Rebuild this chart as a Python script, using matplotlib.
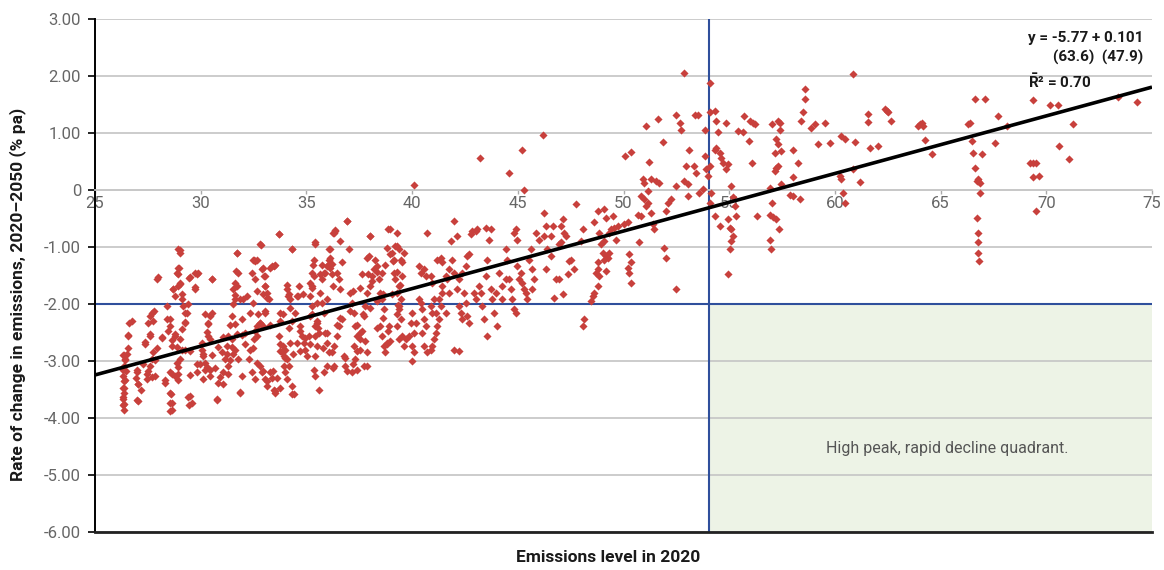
import matplotlib
matplotlib.use("Agg")
import matplotlib.pyplot as plt
import numpy as np
from matplotlib.patches import Rectangle

plt.rcParams['font.family'] = ['Roboto', 'DejaVu Sans']
plt.rcParams['mathtext.fontset'] = 'custom'
plt.rcParams['mathtext.rm'] = 'Roboto'
plt.rcParams['mathtext.bf'] = 'Roboto:bold'

# ---- data: emissions level in 2020 vs. rate of change 2020-2050 (% pa) ----
x_group_a = [
    26.39, 26.42, 26.36, 26.45, 26.34, 26.39, 26.36, 26.39, 26.34, 26.39,
    26.37, 26.50, 26.55, 26.55, 26.62, 26.97, 27.05, 26.92, 27.18, 27.02,
    27.52, 27.60, 27.81, 27.60, 27.37, 27.76, 27.68, 27.60, 27.52, 27.44,
    27.84, 27.92, 28.15, 28.31, 28.39, 28.55, 28.68, 28.79, 28.86, 28.94,
    29.02, 28.94, 28.91, 29.02, 29.13, 29.18, 29.26, 29.26, 29.10, 28.79,
    28.63, 28.55, 28.79, 28.94, 28.60, 28.63, 28.55, 28.86, 29.02, 29.26,
    29.50, 29.50, 29.57, 29.46, 29.73, 29.89, 29.73, 29.81, 30.05, 30.05,
    30.13, 30.21, 30.36, 30.44, 30.52, 30.52, 30.36, 30.21, 30.44, 30.68,
    30.76, 30.84, 30.99, 31.07, 31.15, 31.23, 31.31, 31.39, 31.47, 31.55,
    31.62, 31.70, 31.75, 31.62, 31.47, 31.31, 31.62, 31.78, 31.86, 31.94,
    32.02, 32.10, 31.94, 31.55]
y_group_a = [
    -2.90, -2.97, -3.09, -3.18, -3.26, -3.35, -3.47, -3.56, -3.67, -3.76,
    -3.86, -2.88, -2.78, -2.56, -2.33, -3.20, -3.41, -3.29, -3.50, -3.70,
    -2.33, -2.21, -2.12, -2.56, -2.71, -2.85, -2.97, -3.09, -3.18, -3.32,
    -3.26, -1.57, -2.59, -3.38, -2.04, -2.27, -1.74, -1.86, -1.45, -1.04,
    -1.10, -1.36, -1.68, -1.63, -1.92, -2.04, -2.15, -2.33, -2.44, -2.56,
    -2.74, -3.20, -3.26, -3.23, -3.58, -3.73, -3.88, -3.03, -2.97, -2.80,
    -2.82, -3.61, -3.73, -1.54, -1.45, -1.45, -1.74, -3.20, -2.68, -2.80,
    -2.91, -3.03, -2.33, -2.21, -1.57, -2.15, -2.56, -3.15, -3.26, -3.12,
    -3.68, -3.38, -2.85, -3.20, -2.97, -2.74, -2.56, -2.36, -2.21, -1.74,
    -1.63, -1.10, -1.45, -1.92, -2.62, -3.09, -2.80, -2.97, -3.56, -3.26,
    -1.92, -2.50, -2.27, -2.88]

x_group_b = [
    32.19, 32.35, 32.43, 32.51, 32.66, 32.82, 32.90, 32.98, 33.06, 33.14,
    33.22, 33.29, 33.45, 33.06, 32.82, 32.66, 32.51, 32.35, 32.27, 32.43,
    32.58, 32.82, 32.90, 33.06, 33.14, 33.29, 33.37, 33.45, 33.53, 33.69,
    33.77, 33.69, 33.77, 33.85, 33.93, 34.00, 34.08, 34.16, 33.93, 34.00,
    34.08, 34.24, 34.32, 34.32, 34.40, 34.48, 34.56, 34.63, 34.08, 34.16,
    34.24, 34.71, 34.79, 34.87, 34.95, 35.03, 35.11, 35.19, 35.27, 35.34,
    35.42, 35.34, 35.27, 35.19, 35.42, 35.50, 35.58, 35.50, 35.42, 35.34,
    35.42, 35.58, 35.82, 35.98, 36.05, 35.98, 35.90, 35.82, 35.74, 35.66,
    35.74, 35.82, 35.98, 36.05, 36.13, 36.21, 36.29, 36.37, 36.45, 36.53,
    36.61, 36.69, 36.69, 36.53, 36.45, 36.29, 36.29, 36.76, 36.84, 36.92,
    37.00, 37.08, 37.16, 37.24, 37.32, 37.40, 37.24, 37.32, 37.40, 37.16,
    37.55, 37.63, 37.71, 37.79, 37.87, 37.95, 38.03, 38.03, 38.10, 38.18,
    38.26, 38.34, 38.42, 38.50, 38.58, 38.66, 38.50, 38.58, 38.66, 38.74,
    38.81, 38.89, 38.97, 39.05, 39.13, 39.21, 39.29, 39.13, 39.21, 39.29,
    39.37, 39.29, 39.37, 37.71, 37.87, 37.55]
y_group_b = [
    -1.86, -2.15, -1.45, -1.22, -1.22, -0.95, -1.39, -1.51, -1.68, -1.80,
    -1.92, -1.36, -1.33, -2.15, -2.33, -2.39, -2.62, -2.80, -2.97, -3.20,
    -3.32, -3.09, -3.20, -3.32, -3.44, -3.20, -3.29, -3.50, -3.56, -0.78,
    -2.15, -2.56, -2.71, -2.85, -2.91, -2.80, -2.97, -3.09, -3.09, -3.20,
    -3.32, -2.68, -1.04, -3.44, -3.58, -2.15, -1.86, -1.68, -1.74, -1.83,
    -1.92, -2.39, -2.56, -2.68, -2.80, -2.91, -2.56, -2.21, -2.04, -1.22,
    -0.92, -1.51, -1.68, -1.86, -2.39, -2.33, -2.50, -2.74, -2.91, -3.15,
    -3.26, -3.50, -3.20, -3.09, -2.85, -2.68, -2.50, -2.15, -1.98, -1.80,
    -1.57, -1.45, -1.33, -1.22, -1.04, -1.30, -0.75, -0.72, -1.45, -1.57,
    -1.74, -1.27, -2.27, -2.39, -2.56, -2.74, -3.09, -2.91, -3.09, -0.54,
    -1.04, -1.80, -1.98, -2.15, -2.39, -2.56, -2.74, -2.97, -3.15, -3.20,
    -2.62, -2.47, -2.21, -2.04, -1.80, -1.16, -0.81, -1.68, -1.51, -1.39,
    -1.22, -1.33, -1.57, -1.80, -1.92, -2.09, -2.39, -2.56, -2.74, -2.85,
    -2.68, -2.39, -0.69, -1.10, -1.22, -0.98, -0.75, -1.45, -1.57, -1.80,
    -2.04, -2.39, -2.62, -3.09, -2.85, -2.80]

x_group_c = [
    40.09, 43.20, 44.59, 45.18, 45.29, 46.19, 39.38, 39.46, 39.54, 39.62,
    39.54, 39.38, 39.46, 39.38, 39.46, 39.54, 39.62, 39.70, 40.01, 40.09,
    40.01, 39.85, 39.93, 40.01, 40.09, 40.17, 40.33, 40.41, 40.48, 40.56,
    40.64, 40.48, 40.56, 40.72, 40.88, 40.96, 41.04, 41.12, 41.19, 41.27,
    40.96, 40.88, 41.04, 41.12, 41.27, 41.35, 41.43, 40.33, 40.41, 40.56,
    40.64, 40.72, 40.88, 40.96, 41.19, 41.35, 41.43, 41.59, 41.67, 41.75,
    41.82, 41.90, 41.98, 41.98, 42.14, 42.14, 41.98, 42.22, 42.22, 42.30,
    42.38, 42.46, 42.53, 42.61, 42.69, 42.61, 42.69, 42.77, 42.85, 43.01,
    43.09, 42.93, 43.01, 43.17, 43.24, 43.32, 43.40, 43.56, 43.48, 43.56,
    43.64, 43.72, 43.48, 43.72, 43.80, 43.88, 43.95, 44.03, 44.11, 44.27,
    44.43, 44.51, 44.59, 44.66, 44.74, 44.82, 44.90, 44.82, 44.90, 44.98,
    44.98, 45.06, 45.22, 45.29, 45.37, 45.45, 45.53, 45.61, 45.69, 45.77,
    45.69, 45.85, 46.00, 46.24, 46.32, 46.40, 46.32, 46.24, 45.14, 44.43,
    44.27, 42.53, 42.38, 42.22, 41.75, 41.43, 41.59]
y_group_c = [
    0.08, 0.56, 0.30, 0.71, 0.00, 0.96, -1.04, -1.22, -1.27, -1.10,
    -1.51, -1.68, -1.92, -2.09, -2.27, -2.56, -2.74, -2.62, -2.74, -2.85,
    -3.00, -2.56, -2.33, -2.15, -2.50, -2.33, -1.92, -1.98, -2.09, -2.27,
    -2.39, -2.50, -2.74, -2.85, -2.80, -2.74, -2.62, -2.50, -2.39, -2.27,
    -2.15, -2.04, -1.92, -2.15, -1.92, -2.04, -1.80, -1.33, -1.45, -1.39,
    -1.51, -0.75, -1.51, -1.63, -1.22, -1.19, -1.27, -1.51, -1.57, -1.39,
    -0.89, -1.22, -0.54, -1.45, -0.81, -1.74, -2.80, -2.82, -2.04, -2.15,
    -2.27, -1.80, -1.98, -2.21, -2.33, -1.16, -1.13, -0.78, -0.72, -0.72,
    -0.69, -1.80, -1.92, -1.68, -1.80, -2.04, -2.27, -2.56, -1.51, -1.22,
    -0.87, -0.69, -0.66, -1.74, -1.92, -2.15, -1.80, -2.39, -1.45, -1.92,
    -1.04, -1.22, -1.57, -1.74, -1.92, -2.09, -2.15, -0.75, -0.69, -0.87,
    -1.33, -1.57, -1.63, -1.74, -1.80, -1.92, -1.22, -1.04, -1.39, -1.57,
    -1.74, -0.75, -0.87, -0.40, -0.63, -1.04, -1.39, -0.81, -1.45, -1.57,
    -1.68, -1.33, -1.45, -1.57, -1.80, -1.68, -2.15]

x_group_d = [
    52.85, 51.07, 51.65, 52.48, 52.69, 53.38, 53.51, 52.72, 51.85, 50.07,
    50.36, 51.22, 53.12, 52.96, 53.35, 53.43, 50.91, 50.99, 51.30, 51.54,
    51.70, 51.14, 50.83, 50.99, 51.14, 51.07, 52.48, 52.85, 53.04, 53.07,
    53.59, 52.25, 52.09, 52.01, 51.30, 50.83, 50.67, 50.20, 50.04, 49.72,
    49.57, 49.41, 49.33, 49.49, 49.17, 49.09, 48.78, 48.62, 48.86, 49.65,
    49.09, 48.94, 49.01, 49.09, 49.17, 49.25, 49.33, 48.78, 48.70, 48.78,
    48.86, 48.78, 48.62, 48.54, 48.46, 49.17, 50.28, 50.36, 50.23, 50.28,
    50.36, 50.75, 51.38, 51.46, 51.93, 52.01, 52.48, 48.15, 48.10, 48.07,
    47.99, 47.75, 47.67, 47.52, 47.44, 47.36, 47.28, 47.20, 47.12, 47.04,
    47.04, 46.96, 46.96, 47.12, 46.73, 46.65, 46.57, 46.57, 46.81]
y_group_d = [
    2.05, 1.13, 1.25, 1.31, 1.18, 1.31, 1.31, 1.05, 0.84, 0.60,
    0.67, 0.49, 0.70, 0.42, 0.42, 0.30, 0.19, 0.12, 0.19, 0.16,
    0.13, -0.02, -0.11, -0.16, -0.22, -0.28, 0.07, 0.16, 0.10, -0.11,
    -0.05, -0.16, -0.23, -0.37, -0.40, -0.46, -0.43, -0.57, -0.60, -0.63,
    -0.66, -0.69, -0.75, -0.46, -0.49, -0.34, -0.37, -0.57, -0.75, -0.87,
    -0.89, -0.95, -1.10, -1.22, -1.16, -1.19, -1.10, -1.27, -1.45, -1.39,
    -1.51, -1.68, -1.80, -1.86, -1.95, -1.42, -1.13, -1.27, -1.36, -1.45,
    -1.63, -0.91, -0.60, -0.69, -1.01, -1.19, -1.73, -2.27, -2.39, -0.69,
    -0.89, -0.25, -1.39, -1.22, -1.25, -1.48, -0.81, -0.75, -0.51, -0.63,
    -0.92, -0.95, -1.57, -1.83, -1.89, -0.63, -0.81, -1.16, -1.57]

x_group_e = [
    54.11, 54.08, 54.31, 54.39, 53.84, 54.47, 54.83, 54.39, 54.31, 54.55,
    54.63, 54.71, 54.94, 54.86, 54.08, 53.84, 53.92, 54.00, 53.76, 54.15,
    54.08, 55.10, 55.18, 55.26, 55.34, 54.31, 54.55, 54.94, 55.02, 55.10,
    55.18, 55.10, 55.02, 54.94, 55.42, 55.65, 55.68, 55.97, 56.13, 56.20,
    55.94, 56.09, 56.33, 56.91, 57.04, 56.91, 57.07, 57.20, 57.36, 56.91,
    56.99, 57.04, 57.31, 57.39, 57.39, 57.23, 57.31, 57.15, 57.47, 57.20,
    57.31, 57.15, 57.47, 57.86, 58.02, 58.33, 58.02, 58.26, 58.02, 58.57,
    58.57, 58.49, 58.41, 58.89, 59.04, 59.52, 59.20, 59.75, 60.31, 60.46,
    60.86, 60.23, 60.31, 60.38, 60.46, 60.94, 60.86]
y_group_e = [
    1.87, 1.36, 1.39, 1.21, 1.06, 1.01, 1.17, 0.74, 0.71, 0.65,
    0.57, 0.48, 0.45, 0.36, 0.42, 0.60, 0.36, 0.25, 0.01, -0.05,
    -0.22, 0.07, -0.13, -0.28, -0.46, -0.46, -0.63, -0.51, -0.66, -0.69,
    -0.81, -0.89, -1.04, -1.47, 1.04, 1.01, 1.29, 1.21, 1.18, 1.15,
    0.86, 0.47, -0.46, 0.04, -0.22, -0.43, -0.47, -0.50, -0.68, -0.87,
    -1.04, 1.15, 1.21, 1.17, 1.05, 0.89, 0.80, 0.65, 0.68, 0.39,
    0.42, 0.33, 0.10, -0.09, -0.11, -0.16, 0.22, 0.48, 0.70, 1.78,
    1.59, 1.36, 1.21, 1.09, 1.15, 1.18, 0.80, 0.82, 0.94, 0.90,
    2.03, 0.25, 0.19, -0.05, -0.22, 0.84, 0.36]

x_group_f = [
    61.58, 61.58, 61.66, 62.05, 62.37, 62.45, 62.53, 62.65, 61.19, 63.95,
    64.03, 64.10, 64.18, 64.26, 64.58, 66.31, 66.39, 66.47, 66.55, 66.63,
    67.10, 66.94, 66.63, 66.71, 66.79, 66.87, 66.79, 66.87, 66.71, 66.79,
    66.75, 66.79, 66.82, 67.57, 67.73, 68.13, 69.36, 70.18, 70.57, 71.28,
    70.62, 71.09, 69.23, 69.39, 69.51, 69.36, 69.67, 69.51, 74.28, 73.41]
y_group_f = [
    1.34, 1.19, 0.74, 0.78, 1.42, 1.39, 1.36, 1.21, 0.14, 1.12,
    1.15, 1.18, 1.12, 0.88, 0.63, 1.15, 1.18, 0.86, 0.65, 1.59,
    1.60, 0.63, 0.39, 0.16, 0.16, 0.13, 0.19, -0.05, -0.49, -0.75,
    -0.92, -1.10, -1.25, 0.83, 1.30, 1.13, 1.58, 1.49, 1.49, 1.16,
    0.78, 0.54, 0.47, 0.47, 0.47, 0.23, 0.25, -0.37, 1.55, 1.63]

x_group_g = [
    36.94, 33.72, 32.85, 34.30, 35.41, 36.08, 36.59, 36.27, 36.35, 38.01,
    38.88, 38.80, 39.27, 32.57, 32.46, 32.96, 33.36, 33.51, 33.04, 32.57,
    33.04, 32.96, 32.65, 33.12, 32.49, 32.72, 33.04, 32.80, 32.96, 32.57,
    32.65, 32.49, 33.28, 33.75, 34.07, 34.14, 34.22, 33.91, 34.19, 34.30,
    34.62, 34.85, 35.25, 35.25, 35.33, 35.17, 35.64, 35.72, 35.88, 36.04,
    36.12, 36.12, 36.19, 36.27, 35.96, 35.48, 35.25, 35.48, 35.56, 35.41,
    35.17, 34.93, 34.70, 34.54, 34.38, 34.70, 33.91, 33.75, 33.99, 33.43,
    33.12, 33.59, 33.75, 33.51, 34.30, 32.96, 32.65, 35.80, 36.19, 36.83,
    36.90, 36.27, 35.96, 36.46, 36.59, 37.06, 37.22, 37.53, 37.61, 37.85,
    37.93, 38.09, 38.32, 38.56, 38.72, 38.95, 39.11, 39.27, 39.43, 39.03,
    38.64, 38.32, 38.01, 37.69, 37.38, 37.53, 37.77, 37.38, 37.22, 37.85,
    38.32, 38.64, 38.88, 38.80, 38.95, 39.27, 39.35]
y_group_g = [
    -0.54, -0.77, -0.96, -1.03, -0.95, -1.04, -0.89, -0.76, -0.71, -0.81,
    -0.68, -1.01, -0.99, -1.25, -1.22, -1.37, -1.34, -1.31, -1.51, -1.57,
    -1.69, -1.83, -1.78, -1.89, -1.98, -2.18, -2.13, -2.33, -2.39, -2.48,
    -2.56, -2.77, -2.36, -2.30, -1.66, -1.86, -2.07, -2.18, -2.42, -2.30,
    -1.86, -1.83, -1.72, -1.45, -1.31, -1.63, -1.48, -1.31, -1.45, -1.31,
    -1.19, -1.37, -1.48, -1.69, -1.92, -1.98, -2.18, -2.30, -2.42, -2.56,
    -2.71, -2.59, -2.48, -2.68, -2.88, -2.83, -2.74, -2.83, -2.94, -3.17,
    -3.35, -3.29, -3.47, -3.52, -3.58, -3.17, -3.03, -2.77, -2.85, -2.94,
    -3.17, -3.12, -2.50, -2.36, -2.24, -2.13, -1.78, -1.72, -1.48, -1.19,
    -1.48, -1.60, -1.43, -1.45, -1.31, -1.13, -1.25, -1.43, -1.66, -1.83,
    -1.83, -1.95, -2.07, -2.18, -2.36, -2.50, -2.65, -2.83, -3.06, -3.09,
    -2.42, -2.24, -2.48, -2.71, -2.65, -2.18, -2.01]

x_group_h = [
    29.02, 28.99, 28.94, 29.02, 29.10, 28.71, 29.84, 29.73, 29.50, 27.99,
    30.52, 31.70, 31.67, 31.70, 31.62, 31.55, 31.86, 26.74, 26.58, 27.68,
    27.76, 27.60, 27.37, 27.92, 28.15, 28.39, 28.55, 28.47, 28.63, 28.79,
    29.02, 28.86, 29.10, 29.26, 29.34, 29.42, 30.21, 30.36, 30.28, 30.44,
    30.13, 29.97, 30.28, 30.52, 30.84, 31.07, 31.23, 31.39, 31.47, 31.62,
    31.70, 31.94, 32.10, 26.34, 26.42, 26.34, 26.42, 26.34, 26.34, 26.34,
    26.97, 27.05, 26.97, 27.29, 27.44, 27.68, 27.84, 28.31, 28.63, 28.55,
    28.55, 28.63, 28.94, 28.94, 29.42, 29.46, 29.50, 29.81, 30.13, 30.44,
    30.76, 30.91, 31.07, 31.31, 31.86]
y_group_h = [
    -1.06, -1.36, -1.48, -1.65, -1.83, -1.74, -1.48, -1.71, -1.53, -1.53,
    -1.56, -1.10, -1.42, -1.68, -1.85, -2.00, -1.91, -2.29, -2.55, -2.15,
    -2.29, -2.52, -2.67, -2.78, -2.58, -2.26, -2.38, -2.47, -2.64, -2.52,
    -2.61, -2.76, -2.81, -2.32, -2.15, -2.00, -2.17, -2.35, -2.49, -2.61,
    -2.87, -3.05, -3.10, -2.90, -2.76, -2.58, -2.87, -2.99, -2.76, -2.35,
    -2.52, -2.55, -2.70, -2.90, -2.99, -3.16, -3.34, -3.48, -3.63, -3.77,
    -3.16, -3.40, -3.69, -3.05, -3.22, -3.28, -2.99, -3.34, -3.22, -3.57,
    -3.74, -3.86, -3.34, -3.10, -3.63, -3.77, -3.25, -3.05, -3.31, -3.16,
    -3.66, -3.28, -3.40, -3.22, -3.54]

x_groups = [x_group_a, x_group_b, x_group_c, x_group_d,
            x_group_e, x_group_f, x_group_g, x_group_h]
y_groups = [y_group_a, y_group_b, y_group_c, y_group_d,
            y_group_e, y_group_f, y_group_g, y_group_h]
for gx, gy in zip(x_groups, y_groups):
    assert len(gx) == len(gy), (len(gx), len(gy))
emissions_2020 = np.concatenate([np.asarray(g, float) for g in x_groups])
rate_of_change = np.concatenate([np.asarray(g, float) for g in y_groups])

# fitted regression: y = a + b x, t-statistics in brackets
intercept, slope = -5.77, 0.101
t_stats = (63.6, 47.9)
r2_adj = 0.70
threshold_level = 54.05      # vertical divider
threshold_rate = -2.00       # horizontal divider

x_ticks = [25, 30, 35, 40, 45, 50, 55, 60, 65, 70, 75]
y_ticks = [3, 2, 1, 0, -1, -2, -3, -4, -5, -6]

# ---- figure ----
W, H = 1164, 570
fig = plt.figure(figsize=(W / 100, H / 100), dpi=100)
ax = fig.add_axes([95 / W, 1 - 532 / H, (1152 - 95) / W, (532 - 19) / H])
ax.set_xlim(25, 75)
ax.set_ylim(-6, 3)

grid_col = '#c8c8c8'
tick_col = '#666666'

ax.set_yticks(y_ticks)
ax.set_yticklabels(['0' if v == 0 else f'{v:.2f}' for v in y_ticks])
ax.yaxis.grid(True, color=grid_col, linewidth=1.3)
ax.xaxis.grid(False)
ax.set_axisbelow(True)

ax.set_xticks(x_ticks)
ax.set_xticklabels([str(v) for v in x_ticks])

for s in ('top', 'right'):
    ax.spines[s].set_visible(False)
ax.spines['left'].set_color('black')
ax.spines['left'].set_linewidth(1.4)
ax.spines['bottom'].set_position(('data', 0))
ax.spines['bottom'].set_color(grid_col)
ax.spines['bottom'].set_linewidth(1.3)

ax.tick_params(axis='x', direction='out', length=3, width=1, color='#aaaaaa',
               labelcolor=tick_col, labelsize=12, pad=1)
ax.tick_params(axis='y', direction='out', length=5, width=1.2, color='black',
               labelcolor=tick_col, labelsize=12, pad=5)

# bottom frame line
ax.axhline(-6, color='#222222', linewidth=2.0, zorder=6, clip_on=False)

# shaded quadrant
ax.add_patch(Rectangle((threshold_level, -6), 75 - threshold_level, threshold_rate + 6,
                       facecolor='#edf3e6', edgecolor='none', zorder=0.3))

blue = '#2f4f9c'
ax.axvline(threshold_level, color=blue, linewidth=1.5, zorder=2)
ax.axhline(threshold_rate, color=blue, linewidth=1.5, zorder=2)

ax.scatter(emissions_2020, rate_of_change, marker='D', s=17, color='#c8403c',
           linewidths=0, zorder=3)

fit_x = np.array([25.0, 75.0])
ax.plot(fit_x, intercept + slope * fit_x, color='black', linewidth=2.6, zorder=4,
        solid_capstyle='butt')

# regression annotation
ann = dict(fontsize=11, fontweight='bold', color='#1a1a1a', ha='left', va='center', zorder=7)
ax.text(69.13, 2.67, f'y = {intercept:.2f} + {slope:.3f}', **ann)
ax.text(70.30, 2.32, f'({t_stats[0]:.1f})  ({t_stats[1]:.1f})', **ann)
ax.text(69.13, 1.90, r'$\mathbf{\bar{R}}$' + f'\u00b2 = {r2_adj:.2f}', **ann)

ax.text(65.3, -4.53, 'High peak, rapid decline quadrant.', fontsize=11.5,
        color='#555555', ha='center', va='center')

fig.text(18 / W, 1 - 294 / H, 'Rate of change in emissions, 2020\u20132050 (% pa)',
         rotation=90, ha='center', va='center', fontsize=12.5, fontweight='bold', color='#1a1a1a')
fig.text(608 / W, 1 - 557 / H, 'Emissions level in 2020', ha='center', va='center',
         fontsize=12.5, fontweight='bold', color='#1a1a1a')

fig.savefig('out.png', dpi=100)
